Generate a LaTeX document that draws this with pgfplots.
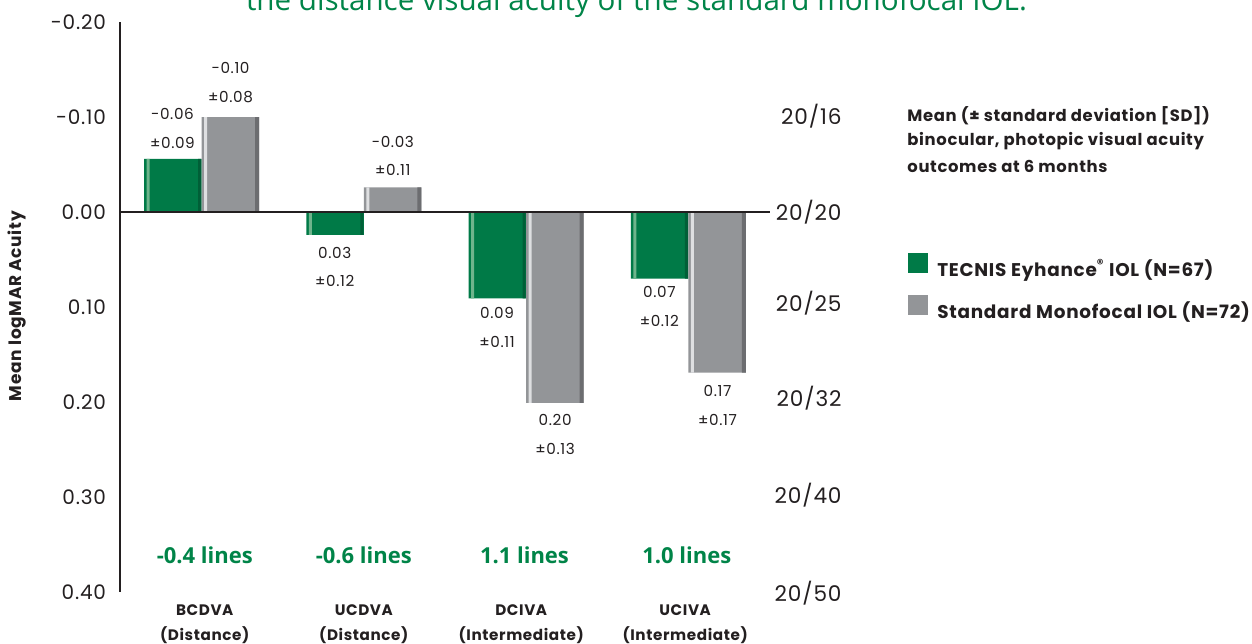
\documentclass[border=0pt]{standalone}
\usepackage{fontspec}
\setmainfont{Poppins}[LetterSpace=4]
\newfontfamily\osans{Open Sans}
\usepackage{pgfplots}
\pgfplotsset{compat=1.18}
\definecolor{txt}{RGB}{35,31,32}
\definecolor{eyG}{RGB}{0,122,71}
\definecolor{eyGL}{RGB}{110,180,140}
\definecolor{eyGD}{RGB}{0,95,55}
\definecolor{stG}{RGB}{147,149,152}
\definecolor{stGL}{RGB}{222,223,225}
\definecolor{stGD}{RGB}{108,109,112}
\definecolor{titleG}{RGB}{0,132,72}
\begin{document}
\begin{tikzpicture}
\begin{axis}[
  name=ax, at={(0,0)}, anchor=south west,
  scale only axis, width=324.6pt, height=285pt,
  xmin=-0.5, xmax=3.5, ymin=-0.2, ymax=0.4, y dir=reverse,
  axis line style={draw=none},
  xtick=\empty,
  ytick={-0.2,-0.1,0,0.1,0.2,0.3,0.4},
  yticklabels={-0.20,-0.10,0.00,0.10,0.20,0.30,0.40},
  major tick length=0pt,
  yticklabel style={font=\fontsize{10}{12}\selectfont, text=txt, inner sep=0pt, xshift=-7pt},
  ybar, bar width=28.75pt,
  clip=false,
  legend cell align=left,
  legend style={at={(axis description cs:1.2132,0.5955)}, anchor=north west,
    draw=none, fill=none, inner sep=0pt, row sep=8pt, column sep=4.5pt,
    font=\bfseries\fontsize{9.2}{11}\selectfont, text=txt,
    nodes={inner sep=0pt}},
]
\addplot[draw=none, fill=eyG, bar shift=-14.375pt, bar width=28.75pt,
  legend image code/.code={\fill[eyG] (0pt,-1.75pt) rectangle (10pt,8.25pt);}]
  coordinates {(0,-0.056) (1,0.024) (2,0.091) (3,0.070)};
\addlegendentry{TECNIS Eyhance\textsuperscript{®} IOL (N=67)}
\addplot[draw=none, fill=stG, bar shift=14.375pt, bar width=28.75pt,
  legend image code/.code={\fill[stG] (0pt,-1.75pt) rectangle (10pt,8.25pt);}]
  coordinates {(0,-0.100) (1,-0.026) (2,0.201) (3,0.169)};
\addlegendentry{Standard Monofocal IOL (N=72)}
% bevel highlights and shaded right edges
\addplot[forget plot, draw=none, fill=eyGL, bar shift=-26.75pt, bar width=1.5pt]
  coordinates {(0,-0.056) (1,0.024) (2,0.091) (3,0.070)};
\addplot[forget plot, draw=none, fill=eyGD, bar shift=-1pt, bar width=1.5pt]
  coordinates {(0,-0.056) (1,0.024) (2,0.091) (3,0.070)};
\addplot[forget plot, draw=none, fill=stGL, bar shift=2pt, bar width=1.5pt]
  coordinates {(0,-0.100) (1,-0.026) (2,0.201) (3,0.169)};
\addplot[forget plot, draw=none, fill=stGD, bar shift=27.75pt, bar width=2pt]
  coordinates {(0,-0.100) (1,-0.026) (2,0.201) (3,0.169)};
% axis lines
\draw[line width=0.8pt, txt] (axis cs:-0.5,0) -- (axis cs:3.5,0);
\draw[line width=1pt, txt] (axis cs:-0.5,-0.2) -- (axis cs:-0.5,0.4);
% value labels
\begin{scope}[every node/.style={font=\fontsize{7.6}{9}\selectfont, text=txt, inner sep=0pt, anchor=center}]
\node at (axis cs:-0.179,-0.1032) {-0.06};
\node at (axis cs:-0.179,-0.0726) {±0.09};
\node at (axis cs:0.179,-0.1516) {-0.10};
\node at (axis cs:0.179,-0.1211) {±0.08};
\node at (axis cs:0.821,0.0432) {0.03};
\node at (axis cs:0.821,0.0726) {±0.12};
\node at (axis cs:1.179,-0.0737) {-0.03};
\node at (axis cs:1.179,-0.0442) {±0.11};
\node at (axis cs:1.821,0.1063) {0.09};
\node at (axis cs:1.821,0.1368) {±0.11};
\node at (axis cs:2.179,0.2189) {0.20};
\node at (axis cs:2.179,0.2495) {±0.13};
\node at (axis cs:2.821,0.0842) {0.07};
\node at (axis cs:2.821,0.1147) {±0.12};
\node at (axis cs:3.179,0.1884) {0.17};
\node at (axis cs:3.179,0.2189) {±0.17};
\end{scope}
% right Snellen labels
\begin{scope}[every node/.style={font=\fontsize{10.8}{12}\selectfont, text=txt, inner sep=0pt, anchor=east}]
\node at (axis cs:3.946,-0.101) {20/16};
\node at (axis cs:3.946,0) {20/20};
\node at (axis cs:3.946,0.0958) {20/25};
\node at (axis cs:3.946,0.1958) {20/32};
\node at (axis cs:3.946,0.2979) {20/40};
\node at (axis cs:3.946,0.401) {20/50};
\end{scope}
% lines difference
\begin{scope}[every node/.style={font=\osans\bfseries\fontsize{11}{13}\selectfont, text=titleG, inner sep=0pt, anchor=center}]
\node at (axis cs:0.02,0.361) {-0.4 lines};
\node at (axis cs:1.0,0.361) {-0.6 lines};
\node at (axis cs:1.99,0.361) {1.1 lines};
\node at (axis cs:2.99,0.361) {1.0 lines};
\end{scope}
% categories
\begin{scope}[every node/.style={font=\bfseries\fontsize{7.6}{9}\selectfont, text=txt, inner sep=0pt, anchor=center}]
\node at (axis cs:0.02,0.419) {BCDVA};
\node at (axis cs:0.02,0.445) {(Distance)};
\node at (axis cs:1,0.419) {UCDVA};
\node at (axis cs:1,0.445) {(Distance)};
\node at (axis cs:1.97,0.419) {DCIVA};
\node at (axis cs:1.97,0.445) {(Intermediate)};
\node at (axis cs:2.98,0.419) {UCIVA};
\node at (axis cs:2.98,0.445) {(Intermediate)};
\end{scope}
% description
\begin{scope}[every node/.style={font=\bfseries\fontsize{8.2}{10}\selectfont, text=txt, inner sep=0pt, anchor=west}]
\node at (axis cs:4.347,-0.1011) {Mean (± standard deviation [SD])};
\node at (axis cs:4.347,-0.0747) {binocular, photopic visual acuity};
\node at (axis cs:4.347,-0.0484) {outcomes at 6 months};
\end{scope}
% y label
\node[rotate=90, font=\bfseries\fontsize{8.5}{10}\selectfont, text=txt, inner sep=0pt] at (axis cs:-1.137,0.099) {Mean logMAR Acuity};
% title (cut off at top)
\node[anchor=base, font=\osans\fontsize{14.8}{16}\selectfont, text=titleG, inner sep=0pt] at (axis cs:2.680,-0.2126) {the distance visual acuity of the standard monofocal IOL.};
\end{axis}
\pgfresetboundingbox
\useasboundingbox ([shift={(-60.18pt,-25.5pt)}]ax.south west) rectangle ([shift={(565.82pt,296pt)}]ax.south west);
\end{tikzpicture}
\end{document}
